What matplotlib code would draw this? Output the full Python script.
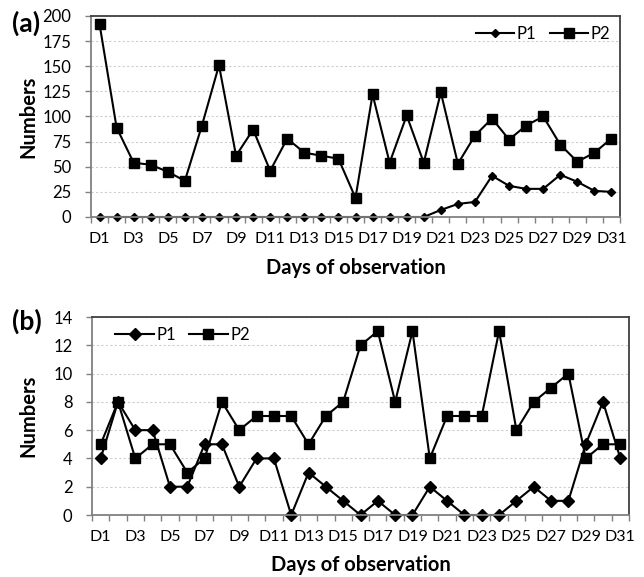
import matplotlib
matplotlib.use("Agg")
import matplotlib.pyplot as plt
import numpy as np

plt.rcParams['font.family'] = ['Lato', 'DejaVu Sans']

days = [f"D{i}" for i in range(1, 32)]

a_p1 = [0, 0, 0, 0, 0, 0, 0, 0, 0, 0, 0, 0, 0, 0, 0, 0, 0, 0, 0, 0,
        7, 13, 15, 41, 31, 28, 28, 42, 35, 26, 25]
a_p2 = [192, 89, 54, 52, 45, 36, 91, 151, 61, 87, 46, 78, 64, 61, 58, 19,
        122, 54, 101, 54, 124, 53, 81, 98, 77, 91, 100, 72, 55, 64, 78]

b_p1 = [4, 8, 6, 6, 2, 2, 5, 5, 2, 4, 4, 0, 3, 2, 1, 0, 1, 0, 0, 2, 1, 0, 0, 0,
        1, 2, 1, 1, 5, 8, 4]
b_p2 = [5, 8, 4, 5, 5, 3, 4, 8, 6, 7, 7, 7, 5, 7, 8, 12, 13, 8, 13, 4, 7, 7, 7,
        13, 6, 8, 9, 10, 4, 5, 5]

a_yticks = [0, 25, 50, 75, 100, 125, 150, 175, 200]
b_yticks = [0, 2, 4, 6, 8, 10, 12, 14]

fig = plt.figure(figsize=(6.44, 5.77), dpi=100)
ax_a = fig.add_axes([91/644, 1-217/577, (620-91)/644, (217-16)/577])
ax_b = fig.add_axes([92/644, 1-515/577, (629-92)/644, (515-317)/577])

x = np.arange(1, 32)


def style(ax, yticks, legend_loc, legend_anchor, ylab_x, xlab_y):
    ax.set_xlim(0.5, 31.5)
    ax.set_ylim(yticks[0], yticks[-1])
    ax.set_yticks(yticks)
    ax.set_yticklabels([str(t) for t in yticks], fontsize=12)
    ax.set_xticks(x[::2])
    ax.set_xticklabels(days[::2], fontsize=11.5)
    ax.set_xticks(np.arange(0.5, 32, 1), minor=True)
    ax.tick_params(axis='x', which='major', length=0, pad=11)
    ax.tick_params(axis='x', which='minor', length=4, color='#808080', width=1)
    ax.tick_params(axis='y', which='major', length=4, color='#808080', width=1, pad=10)
    ax.yaxis.grid(True, color='#cfcfcf', linestyle=(0, (2, 2)), linewidth=0.8)
    ax.set_axisbelow(True)
    for s in ax.spines.values():
        s.set_color('#404040')
        s.set_linewidth(1.3)
    ax.spines['bottom'].set_color('#808080')
    ax.spines['left'].set_color('#808080')
    ax.set_ylabel('Numbers', fontsize=14.5, fontweight='bold', va='center')
    ax.yaxis.set_label_coords(ylab_x, 0.5)
    ax.set_xlabel('Days of observation', fontsize=14.5, fontweight='bold', va='center')
    ax.xaxis.set_label_coords(0.5, xlab_y)
    ax.legend(loc=legend_loc, bbox_to_anchor=legend_anchor, ncol=2, frameon=False,
              fontsize=12, handlelength=2.3, handletextpad=0.15, columnspacing=0.8,
              borderaxespad=0.2)


ax_a.plot(x, a_p1, color='black', lw=1.5, marker='D', ms=4.5, label='P1', clip_on=False)
ax_a.plot(x, a_p2, color='black', lw=1.5, marker='s', ms=7, label='P2', clip_on=False)
style(ax_a, a_yticks, 'upper right', (1.0, 1.0), (28-91)/529, (217-268)/201)

ax_b.plot(x, b_p1, color='black', lw=1.5, marker='D', ms=6, label='P1', clip_on=False)
ax_b.plot(x, b_p2, color='black', lw=1.5, marker='s', ms=7.5, label='P2', clip_on=False)
style(ax_b, b_yticks, 'upper left', (0.025, 1.0), (28-92)/537, (515-565)/198)

fig.text(12/644, 1-23/577, '(a)', fontsize=19, fontweight='bold', va='center', ha='left')
fig.text(12/644, 1-321/577, '(b)', fontsize=19, fontweight='bold', va='center', ha='left')

fig.savefig('out.png', dpi=100)
